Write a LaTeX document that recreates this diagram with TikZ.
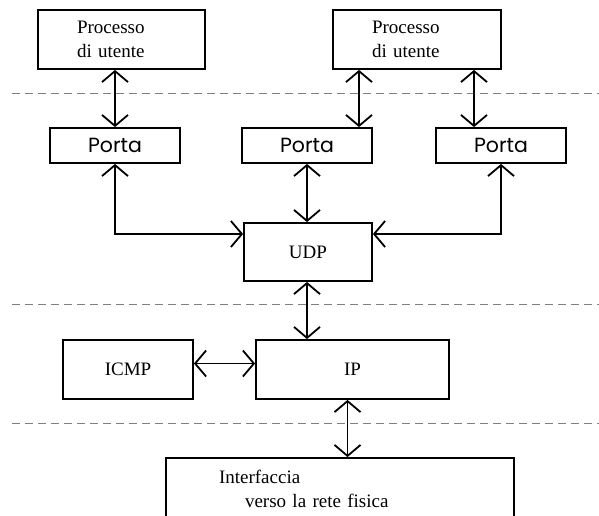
\documentclass[tikz,border=0pt]{standalone}
\usepackage{fontspec}
\setmainfont{Liberation Serif}
\newfontfamily\portafont{Poppins}
\usetikzlibrary{arrows.meta}

\begin{document}
\begin{tikzpicture}[x=1pt,y=-1pt,
  box/.style={draw, line width=1.8pt, rectangle, inner sep=0pt,
    font=\fontsize{19}{24}\selectfont},
  portbox/.style={box, minimum width=130pt, minimum height=35pt,
    font=\portafont\fontsize{20.5}{24}\selectfont},
  link/.style={line width=1.8pt,
    {Straight Barb[length=11pt,width=26pt]}-{Straight Barb[length=11pt,width=26pt]}},
  sep/.style={draw=gray, line width=0.9pt, dash pattern=on 8pt off 5pt}
]
\useasboundingbox (0,0) rectangle (599,515);
\clip (0,0) rectangle (599,515);

% layer separators
\draw[sep] (12,93) -- (599,93);
\draw[sep] (12,304) -- (599,304);
\draw[sep] (12,423) -- (599,423);

% application layer
\node[box, minimum width=167pt, minimum height=59pt, text width=89pt,
  inner xsep=39pt, align=left] (proc1) at (121.5,39.5) {Processo\\di utente};
\node[box, minimum width=168pt, minimum height=59pt, text width=90pt,
  inner xsep=39pt, align=left] (proc2) at (417,39.5) {Processo\\di utente};

% ports
\node[portbox] (porta1) at (115,145.5) {Porta};
\node[portbox] (porta2) at (307,145.5) {Porta};
\node[portbox] (porta3) at (501,145.5) {Porta};

% transport, network and link layers
\node[box, minimum width=128pt, minimum height=58pt] (udp) at (308,252) {UDP};
\node[box, minimum width=130pt, minimum height=59pt] (icmp) at (128,369.5) {ICMP};
\node[box, minimum width=193pt, minimum height=59pt] (ip) at (352.5,369.5) {IP};
\node[box, minimum width=348pt, minimum height=62pt, text width=242pt,
  inner xsep=53pt, align=left] (iface) at (340,489)
  {Interfaccia\\\hspace*{26pt}verso la rete fisica};

% connections
\draw[link] (proc1.south -| porta1) -- (porta1.north);
\draw[link] ([xshift=-58pt]proc2.south) -- ([xshift=-58pt]proc2.south |- porta2.north);
\draw[link] ([xshift=57pt]proc2.south) -- ([xshift=57pt]proc2.south |- porta3.north);
\draw[link] (porta1.south) |- ([yshift=18pt]udp.west);
\draw[link] (porta2.south) -- (porta2.south |- udp.north);
\draw[link] (porta3.south) |- ([yshift=18pt]udp.east);
\draw[link] ([xshift=-1pt]udp.south) -- ([xshift=-1pt]udp.south |- ip.north);
\draw[link] ([yshift=6pt]icmp.east) -- ([yshift=6pt]ip.west);
\draw[link] ([xshift=-5pt]ip.south) -- ([xshift=-5pt]ip.south |- iface.north);
\end{tikzpicture}
\end{document}
